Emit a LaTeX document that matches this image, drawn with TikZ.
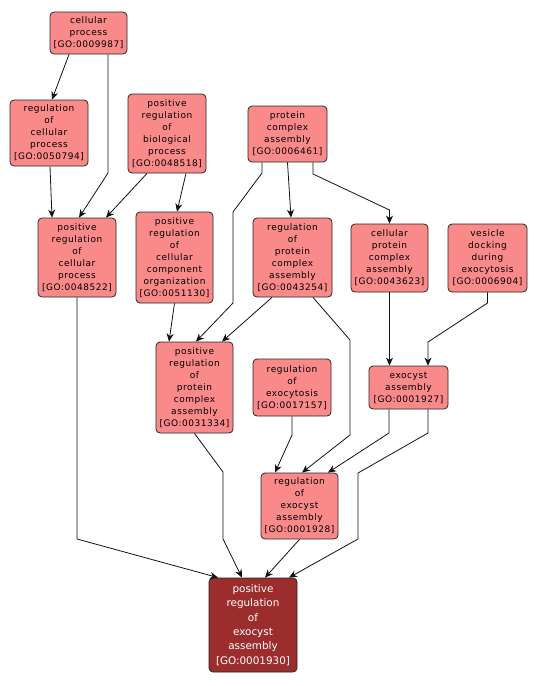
\documentclass[tikz,border=0pt]{standalone}
\usepackage{fontspec}
\setmainfont{DejaVu Sans}
\newfontfamily\gofont{DejaVu Sans}[LetterSpace=6]
\usepackage{xcolor}
\definecolor{go-term}{HTML}{FA8A8A}
\definecolor{go-target}{HTML}{9B2D2D}
\definecolor{go-edge}{HTML}{111111}
\usetikzlibrary{arrows.meta,positioning}

\begin{document}
\begin{tikzpicture}[
  x=1pt, y=-1pt,
  goterm/.style={rectangle, rounded corners=4pt, draw=black!85,
                 fill=go-term, line width=0.8pt, inner sep=0pt,
                 align=center, font=\gofont\fontsize{9}{12}\selectfont},
  gotarget/.style={goterm, fill=go-target, text=white,
                   font=\fontsize{10.4}{14.3}\selectfont},
  arr/.style={-{Stealth[length=8pt,width=7pt,inset=2.5pt]},
              line width=0.8pt, draw=go-edge}
]
  \useasboundingbox (0,0) rectangle (536,686);

  \node[goterm, minimum width=77, minimum height=42] (cp)    at (88.5,33)   {cellular\\process\\{[GO:0009987]}};
  \node[goterm, minimum width=78, minimum height=66] (rcp)   at (49,133)    {regulation\\of\\cellular\\process\\{[GO:0050794]}};
  \node[goterm, minimum width=78, minimum height=79] (prbp)  at (167,133.5) {positive\\regulation\\of\\biological\\process\\{[GO:0048518]}};
  \node[goterm, minimum width=78, minimum height=79] (prcp)  at (77,257.5)  {positive\\regulation\\of\\cellular\\process\\{[GO:0048522]}};
  \node[goterm, minimum width=77, minimum height=91] (prcco) at (174.5,257.5) {positive\\regulation\\of\\cellular\\component\\organization\\{[GO:0051130]}};
  \node[goterm, minimum width=79, minimum height=56] (pca)   at (287.5,134) {protein\\complex\\assembly\\{[GO:0006461]}};
  \node[goterm, minimum width=79, minimum height=79] (rpca)  at (292.5,257.5) {regulation\\of\\protein\\complex\\assembly\\{[GO:0043254]}};
  \node[goterm, minimum width=77, minimum height=68] (cpca)  at (389.5,258) {cellular\\protein\\complex\\assembly\\{[GO:0043623]}};
  \node[goterm, minimum width=79, minimum height=68] (vdde)  at (487.5,258) {vesicle\\docking\\during\\exocytosis\\{[GO:0006904]}};
  \node[goterm, minimum width=77, minimum height=91] (prpca) at (194.5,387.5) {positive\\regulation\\of\\protein\\complex\\assembly\\{[GO:0031334]}};
  \node[goterm, minimum width=78, minimum height=57] (rexo)  at (292,387.5) {regulation\\of\\exocytosis\\{[GO:0017157]}};
  \node[goterm, minimum width=79, minimum height=43] (exa)   at (408.5,387.5) {exocyst\\assembly\\{[GO:0001927]}};
  \node[goterm, minimum width=77, minimum height=66] (rexa)  at (299.5,506) {regulation\\of\\exocyst\\assembly\\{[GO:0001928]}};
  \node[gotarget, minimum width=88, minimum height=94] (prexa) at (253,625) {positive\\regulation\\of\\exocyst\\assembly\\{[GO:0001930]}};

  \draw[arr] ([xshift=-19.5]cp.south) -- ([xshift=3]rcp.north);
  \draw[arr] ([xshift=19.5]cp.south) -- (108,173) -- ([xshift=2]prcp.north);
  \draw[arr] ([xshift=1]rcp.south) -- ([xshift=-25]prcp.north);
  \draw[arr] ([xshift=-20]prbp.south) -- ([xshift=29]prcp.north);
  \draw[arr] ([xshift=19]prbp.south) -- ([xshift=2.5]prcco.north);
  \draw[arr] (prcp.south) -- (77,539) -- ([xshift=-35]prexa.north);
  \draw[arr] (pca.south) -- ([xshift=-1.5]rpca.north);
  \draw[arr] ([xshift=25.5]pca.south) -- (313,174) -- (389.5,210) -- (cpca.north);
  \draw[arr] ([xshift=-25.5]pca.south) -- (262,173) -- (233,212) -- (233,303) -- ([xshift=1.5]prpca.north);
  \draw[arr] (prcco.south) -- ([xshift=-25.5]prpca.north);
  \draw[arr] ([xshift=-20.5]rpca.south) -- ([xshift=27.5]prpca.north);
  \draw[arr] ([xshift=20.5]rpca.south) -- (350,340) -- (350,435) -- ([xshift=2.5]rexa.north);
  \draw[arr] (cpca.south) -- ([xshift=-19]exa.north);
  \draw[arr] (vdde.south) -- (487.5,303) -- (428,342) -- ([xshift=19.5]exa.north);
  \draw[arr] (rexo.south) -- (292,435) -- ([xshift=-24.5]rexa.north);
  \draw[arr] ([xshift=-19.5]exa.south) -- (389,433) -- ([xshift=28.5]rexa.north);
  \draw[arr] ([xshift=19.5]exa.south) -- (428,433) -- (358,473) -- (358,539) -- ([xshift=36]prexa.north);
  \draw[arr] (prpca.south) -- (223,472) -- (223,539) -- ([xshift=-11]prexa.north);
  \draw[arr] (rexa.south) -- ([xshift=12]prexa.north);

\end{tikzpicture}
\end{document}
